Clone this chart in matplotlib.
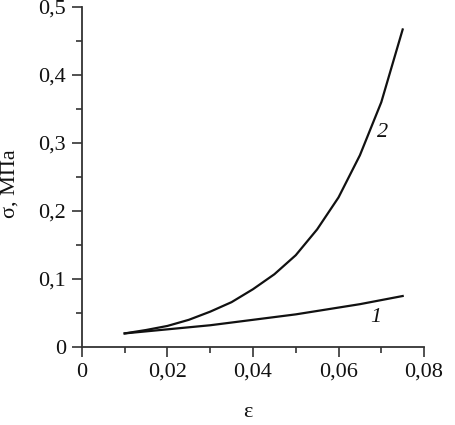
"""Stress-strain curves 1 and 2, redrawn in matplotlib."""

import matplotlib
matplotlib.use("Agg")
import matplotlib.pyplot as plt
from matplotlib.ticker import MultipleLocator, FuncFormatter

# data
strain = [0.010, 0.015, 0.020, 0.025, 0.030, 0.035, 0.040,
          0.045, 0.050, 0.055, 0.060, 0.065, 0.070, 0.075]
stress_1 = [0.020, 0.023, 0.026, 0.029, 0.032, 0.036, 0.040,
            0.044, 0.048, 0.053, 0.058, 0.063, 0.069, 0.075]
stress_2 = [0.020, 0.025, 0.031, 0.040, 0.052, 0.066, 0.085,
            0.107, 0.135, 0.173, 0.220, 0.282, 0.360, 0.467]
curve_labels = ["1", "2"]
x_ticks = [0, 0.02, 0.04, 0.06, 0.08]
y_ticks = [0, 0.1, 0.2, 0.3, 0.4, 0.5]

plt.rcParams["font.family"] = ["Liberation Serif", "DejaVu Serif"]

INK = "#111111"

fig = plt.figure(figsize=(4.55, 4.25), dpi=100)
ax = fig.add_axes([0.180, 0.1835, 0.752, 0.800])

ax.plot(strain, stress_1, color=INK, lw=1.6)
ax.plot(strain, stress_2, color=INK, lw=1.6)
ax.text(0.0688, 0.044, curve_labels[0], style="italic", fontsize=16,
        ha="center", va="center", color=INK)
ax.text(0.0702, 0.315, curve_labels[1], style="italic", fontsize=16,
        ha="center", va="center", color=INK)

ax.set_xlim(0, 0.08)
ax.set_ylim(0, 0.5)
ax.set_xticks(x_ticks)
ax.set_yticks(y_ticks)
ax.xaxis.set_minor_locator(MultipleLocator(0.01))
ax.yaxis.set_minor_locator(MultipleLocator(0.05))
ax.xaxis.set_major_formatter(FuncFormatter(lambda v, p: "0" if v == 0 else f"{v:.2f}".replace(".", ",")))
ax.yaxis.set_major_formatter(FuncFormatter(lambda v, p: "0" if v == 0 else f"{v:.1f}".replace(".", ",")))

for side in ("top", "right"):
    ax.spines[side].set_visible(False)
for side in ("left", "bottom"):
    ax.spines[side].set_color("#333333")
    ax.spines[side].set_linewidth(1.3)

ax.tick_params(which="major", direction="out", length=7.5, width=1.2,
               colors="#333333", labelcolor=INK, labelsize=16, pad=4)
ax.tick_params(which="minor", direction="out", length=4, width=1.2, colors="#333333")

ax.set_xlabel("ε", fontsize=16, color=INK)
ax.set_ylabel("σ, МПа", fontsize=16, color=INK)
ax.xaxis.set_label_coords(0.484, -0.165)
ax.yaxis.set_label_coords(-0.182, 0.48)

fig.savefig("out.png", dpi=100, facecolor="white")
